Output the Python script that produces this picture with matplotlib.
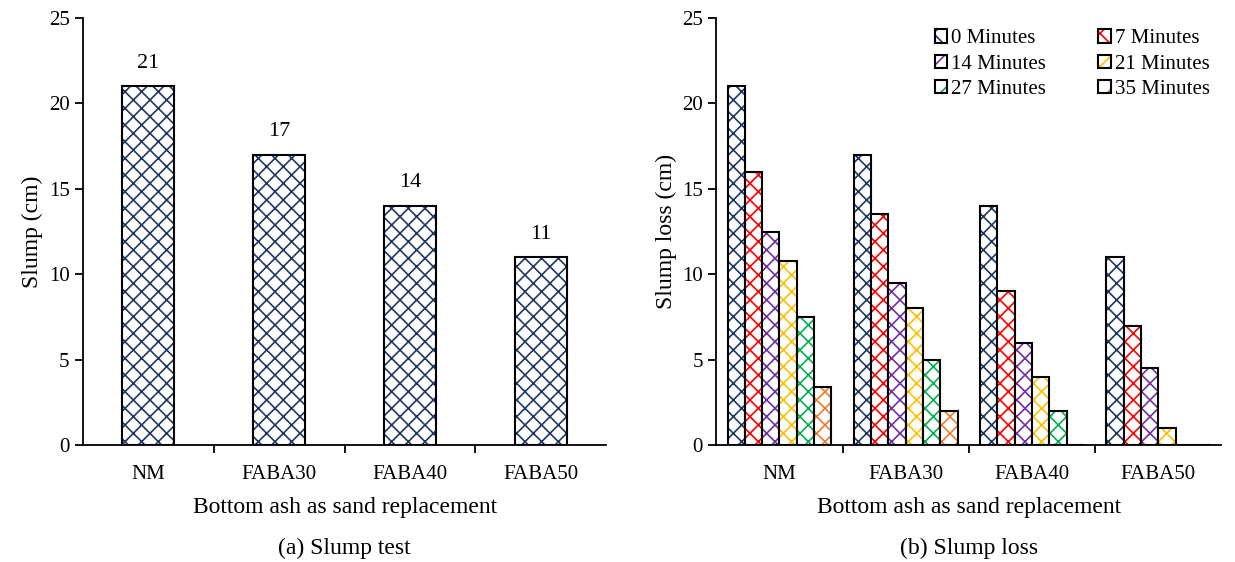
import numpy as np
import matplotlib.pyplot as plt
from matplotlib.legend_handler import HandlerTuple

plt.rcParams['font.family'] = 'Liberation Serif'
plt.rcParams['font.size'] = 15
plt.rcParams['hatch.linewidth'] = 1.2

mixes = ['NM', 'FABA30', 'FABA40', 'FABA50']
slump = [21, 17, 14, 11]

times = ['0 Minutes', '7 Minutes', '14 Minutes', '21 Minutes', '27 Minutes', '35 Minutes']
loss = [
    [21, 17, 14, 11],
    [16, 13.5, 9, 7],
    [12.5, 9.5, 6, 4.5],
    [10.8, 8, 4, 1],
    [7.5, 5, 2, 0],
    [3.4, 2, 0, 0],
]
colors = ['#1F3864', '#FF0000', '#7030A0', '#FFC000', '#00B050', '#ED7D31']

fig = plt.figure(figsize=(12.35, 5.62), dpi=100)
ax1 = fig.add_axes([0.067, 0.208, 0.424, 0.760])
ax2 = fig.add_axes([0.580, 0.208, 0.409, 0.760])

x = np.arange(len(mixes))
ax1.bar(x, slump, 0.4, color='white', edgecolor=colors[0], hatch='xx', linewidth=0)
ax1.bar(x, slump, 0.4, color='none', edgecolor='black', linewidth=1.5)
for xi, v in zip(x, slump):
    ax1.text(xi, v + 0.8, str(v), ha='center', va='bottom', fontsize=16)

w = 0.137
handles = []
for i, (t, vals) in enumerate(zip(times, loss)):
    pos = x + (i - 2.5) * w
    ax2.bar(pos, vals, w, color='white', edgecolor=colors[i], hatch='xx', linewidth=0)
    ax2.bar(pos, vals, w, color='none', edgecolor='black', linewidth=1.5)
    h_fill = plt.Rectangle((0, 0), 1, 1, facecolor='white', edgecolor=colors[i],
                           hatch='x', linewidth=0)
    h_edge = plt.Rectangle((0, 0), 1, 1, facecolor='none', edgecolor='black',
                           linewidth=1.5)
    handles.append((h_fill, h_edge))

order = [0, 2, 4, 1, 3, 5]
ax2.legend([handles[k] for k in order], [times[k] for k in order], ncol=2,
           handler_map={tuple: HandlerTuple(ndivide=1, pad=0)},
           frameon=False, loc='upper right', fontsize=15, handlelength=0.6,
           handleheight=0.6, handletextpad=0.2, columnspacing=2.5,
           labelspacing=0.3, borderaxespad=0.15)

for ax, yl in [(ax1, 'Slump (cm)'), (ax2, 'Slump loss (cm)')]:
    ax.set_xlim(-0.5, 3.5)
    ax.set_ylim(0, 25)
    ax.set_yticks(range(0, 26, 5))
    ax.set_xticks(x)
    ax.set_xticklabels(mixes)
    ax.set_xticks(np.arange(0.5, 3.5, 1), minor=True)
    ax.tick_params(axis='x', which='major', length=0, pad=14)
    ax.tick_params(axis='x', which='minor', length=6, width=1.3, direction='out')
    ax.tick_params(axis='y', length=6, width=1.3, direction='out')
    ax.spines['top'].set_visible(False)
    ax.spines['right'].set_visible(False)
    ax.spines['left'].set_linewidth(1.3)
    ax.spines['bottom'].set_linewidth(1.3)
    ax.set_ylabel(yl, fontsize=17)
    ax.set_xlabel('Bottom ash as sand replacement', fontsize=17, labelpad=10)

fig.text(0.279, 0.025, '(a) Slump test', ha='center', va='center', fontsize=17)
fig.text(0.785, 0.025, '(b) Slump loss', ha='center', va='center', fontsize=17)

fig.savefig('out.png', dpi=100)
